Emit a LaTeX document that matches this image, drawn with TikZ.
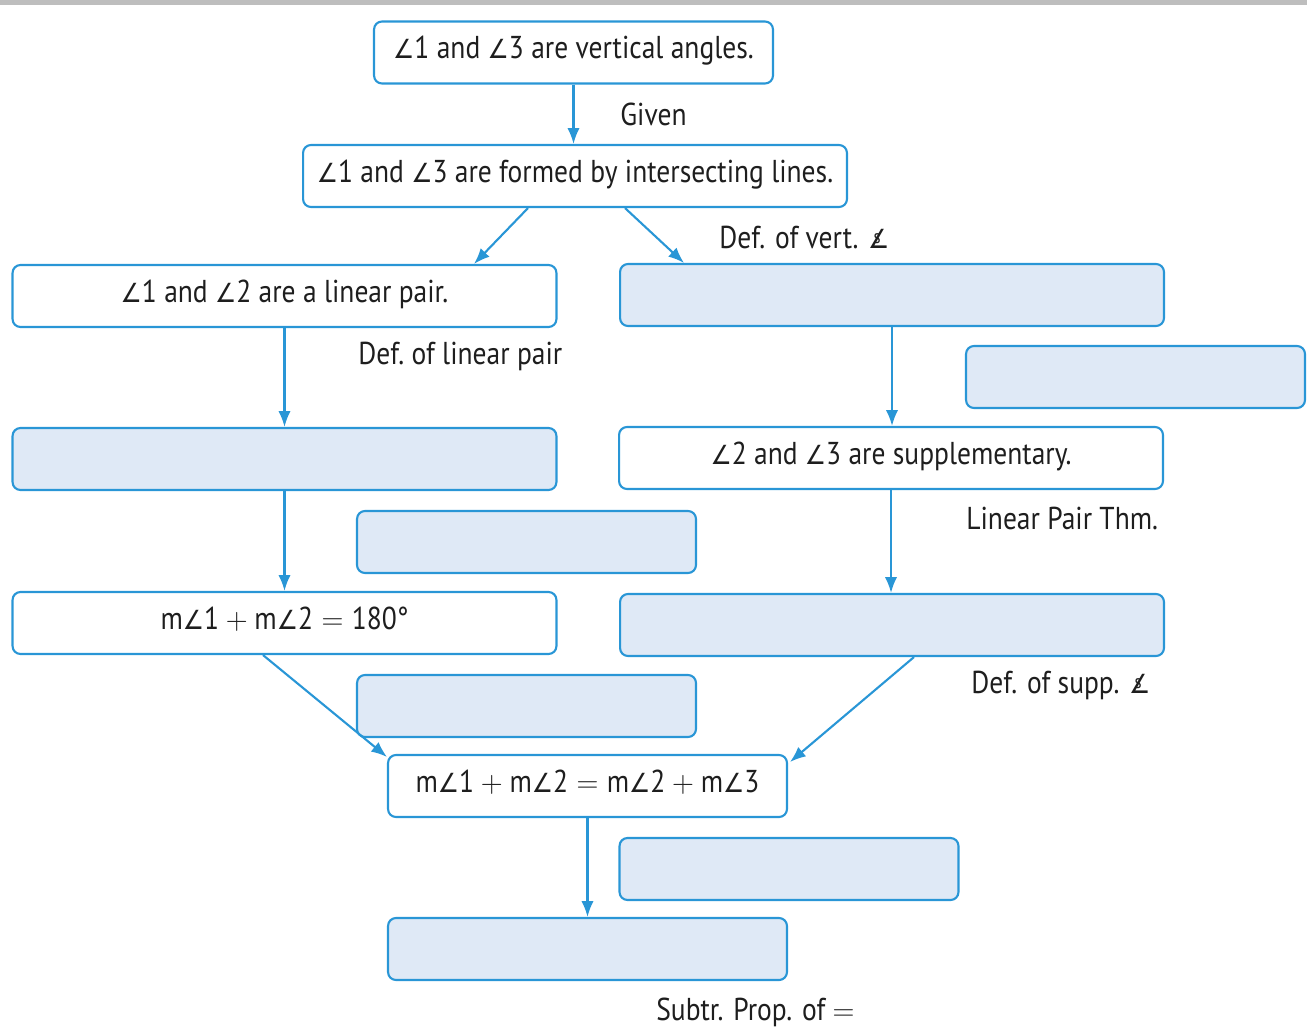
\documentclass[tikz,border=0pt]{standalone}
\usepackage{fontspec}
\setmainfont[FakeStretch=0.87]{PT Sans}
\newfontfamily\symf[FakeStretch=0.9]{DejaVu Sans}
\usetikzlibrary{arrows.meta, calc}

\definecolor{boxblue}{RGB}{41,150,214}
\definecolor{boxfill}{RGB}{223,233,246}
\definecolor{textgray}{RGB}{30,30,30}
\definecolor{bandgray}{RGB}{190,190,190}

\newcommand{\ang}{{\symf\fontsize{15}{18}\selectfont ∠}}
\newcommand{\angs}{{\symf\fontsize{15}{18}\selectfont ∠}\kern-0.5em\raisebox{0.3ex}{\fontsize{11}{12}\selectfont s}}

\tikzset{
  stmt/.style={draw=boxblue, line width=1.2pt, rounded corners=4.5pt, minimum height=1.24cm,
    inner sep=0pt, text height=12pt, text depth=5pt, text=textgray, font=\fontsize{18}{20}\selectfont},
  wide/.style={stmt, minimum width=7.98cm},
  mid/.style={stmt, minimum width=10.88cm},
  small/.style={stmt, minimum width=6.78cm},
  blank/.style={fill=boxfill},
  reason/.style={anchor=west, inner sep=0pt, text=textgray, font=\fontsize{18}{20}\selectfont},
  arr/.style={draw=boxblue, line width=1.2pt, -{Latex[length=9pt,width=7pt]}},
}

\begin{document}
\begin{tikzpicture}[x=0.02cm, y=-0.02cm]
  \useasboundingbox (0,0) rectangle (1307,1035);
  \fill[bandgray] (0,0) rectangle (1307,5);

  % statements
  \node[wide] at (573.5,52.5) (vert) {\ang1 and \ang3 are vertical angles.};
  \node[mid] at (575,176) (formed) {\ang1 and \ang3 are formed by intersecting lines.};
  \node[mid] at (284.5,296) (linpair) {\ang1 and \ang2 are a linear pair.};
  \node[mid, blank] at (892,295) (congA) {};
  \node[small, blank] at (1135.5,377) (whyA) {};
  \node[mid, blank] at (284.5,459) (suppA) {};
  \node[mid] at (891,458) (supp) {\ang2 and \ang3 are supplementary.};
  \node[small, blank] at (526.5,542) (whyB) {};
  \node[mid] at (284.5,623) (sumA) {m\ang1${}+{}$m\ang2${}={}$180°};
  \node[mid, blank] at (892,625) (sumB) {};
  \node[small, blank] at (526.5,706) (whyC) {};
  \node[wide] at (587.5,786) (sumeq) {m\ang1${}+{}$m\ang2${}={}$m\ang2${}+{}$m\ang3};
  \node[small, blank] at (789,869) (whyD) {};
  \node[wide, blank] at (587.5,949) (concl) {};

  % reasons
  \node[reason] at (620,114) (given) {Given};
  \node[reason] at (719,237) (defvert) {Def. of vert. \angs};
  \node[reason] at (358,356) (deflin) {Def.\ of linear pair};
  \node[reason] at (966,518) (linthm) {Linear Pair Thm.};
  \node[reason] at (971,685) (defsupp) {Def. of supp. \angs};
  \node[reason] at (656,1012) (subtr) {Subtr. Prop. of $=$};

  % connectors
  \draw[arr] (vert.south) -- (vert.south |- formed.north);
  \draw[arr] ($(formed.south)+(-47,0)$) -- ($(linpair.north)+(189.5,0)$);
  \draw[arr] ($(formed.south)+(50,0)$) -- ($(congA.north)+(-208,0)$);
  \draw[arr] (linpair.south) -- (suppA.north);
  \draw[arr] (suppA.south) -- (sumA.north);
  \draw[arr] (congA.south) -- (congA.south |- supp.north);
  \draw[arr] (supp.south) -- (supp.south |- sumB.north);
  \draw[arr] ($(sumA.south)+(-21.5,0)$) -- ($(sumeq.north west)+(0,3)$);
  \draw[arr] ($(sumB.south)+(22,0)$) -- ($(sumeq.north east)+(2,8)$);
  \draw[arr] (sumeq.south) -- (concl.north);
\end{tikzpicture}
\end{document}
